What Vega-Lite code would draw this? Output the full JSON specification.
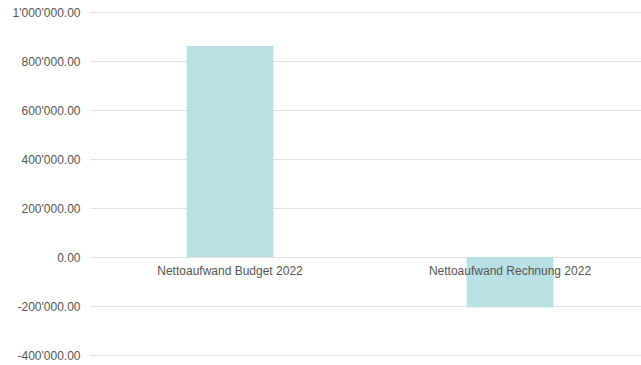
{
  "$schema": "https://vega.github.io/schema/vega-lite/v6.json",
  "width": 560,
  "height": 343,
  "autosize": {"type": "none"},
  "padding": {"left": 90, "top": 12, "right": 0, "bottom": 10},
  "config": {
    "view": {"stroke": null},
    "locale": {"number": {"decimal": ".", "thousands": "'", "grouping": [3], "currency": ["", ""], "minus": "-"}},
    "font": "Liberation Sans"
  },
  "data": {
    "values": [
      {"kategorie": "Nettoaufwand Budget 2022", "wert": 861000},
      {"kategorie": "Nettoaufwand Rechnung 2022", "wert": -206000}
    ]
  },
  "layer": [
    {
      "mark": {"type": "bar", "color": "#b9e0e3"},
      "encoding": {
        "x": {"field": "kategorie", "type": "nominal", "sort": null,
              "scale": {"paddingInner": 0.69, "paddingOuter": 0.345},
              "axis": null},
        "y": {"field": "wert", "type": "quantitative",
              "scale": {"domain": [-400000, 1000000], "nice": false},
              "axis": {"values": [-400000, -200000, 0, 200000, 400000, 600000, 800000, 1000000],
                       "format": ",.2f", "title": null, "domain": false, "ticks": false,
                       "labelPadding": 10, "labelFontSize": 12, "labelColor": "#555555",
                       "gridColor": "#e0e0e0", "gridWidth": 1}}
      }
    },
    {
      "mark": {"type": "text", "baseline": "middle", "dy": 14, "fontSize": 12,
               "font": "Liberation Sans Narrow, Arial Narrow, Liberation Sans", "color": "#555555"},
      "encoding": {
        "x": {"field": "kategorie", "type": "nominal", "sort": null},
        "y": {"datum": 0},
        "text": {"field": "kategorie"}
      }
    }
  ]
}
